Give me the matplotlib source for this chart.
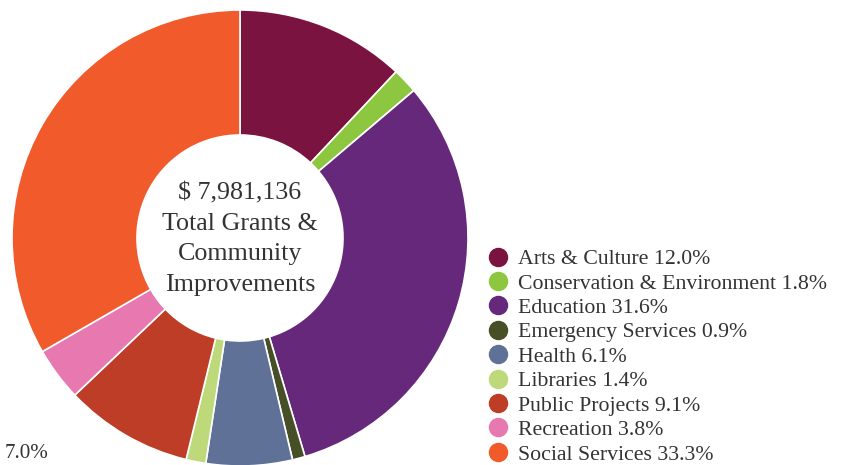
import matplotlib
matplotlib.use("Agg")
import matplotlib.pyplot as plt
from matplotlib.lines import Line2D

categories = ["Arts & Culture", "Conservation & Environment", "Education",
              "Emergency Services", "Health", "Libraries", "Public Projects",
              "Recreation", "Social Services"]
shares = [12.0, 1.8, 31.6, 0.9, 6.1, 1.4, 9.1, 3.8, 33.3]
colors = ["#7B1340", "#8DC63F", "#65287A", "#464F25", "#5F7196",
          "#BDD97A", "#BD3D26", "#E878B0", "#F15A2B"]
total_text = "$ 7,981,136\nTotal Grants &\nCommunity\nImprovements"
stray_label = "7.0%"

W, H = 842, 465
fig = plt.figure(figsize=(W / 100, H / 100), dpi=100)
ax = fig.add_axes([0, 0, 1, 1])

font = "Liberation Serif"
cx, cy, R = 240, H - 238, 228
ax.pie(shares, colors=colors, startangle=90, counterclock=False,
       center=(cx, cy), radius=R, frame=True,
       wedgeprops=dict(width=R - 103, edgecolor="white", linewidth=1.2))
ax.set_xlim(0, W)
ax.set_ylim(0, H)
ax.set_aspect("equal")
ax.axis("off")

ax.text(cx, cy - 1, total_text, ha="center", va="center", fontsize=18.7,
        family=font, color="#333333", linespacing=1.49)

ax.text(5, H - 453, stray_label, ha="left", va="center", fontsize=15.2,
        family=font, color="#333333")

handles = [Line2D([0], [0], marker="o", linestyle="none", markersize=13,
                  markerfacecolor=c, markeredgecolor=c) for c in colors]
labels = [f"{c} {v:.1f}%" for c, v in zip(categories, shares)]
leg = ax.legend(handles, labels, loc="upper left", bbox_to_anchor=(487 / W, 1 - 249 / H),
                frameon=False, prop=dict(family=font, size=15.7),
                handletextpad=0.42, labelspacing=0.19, borderpad=0, borderaxespad=0,
                handlelength=1.0)
for t in leg.get_texts():
    t.set_color("#333333")

fig.savefig("out.png", dpi=100)
